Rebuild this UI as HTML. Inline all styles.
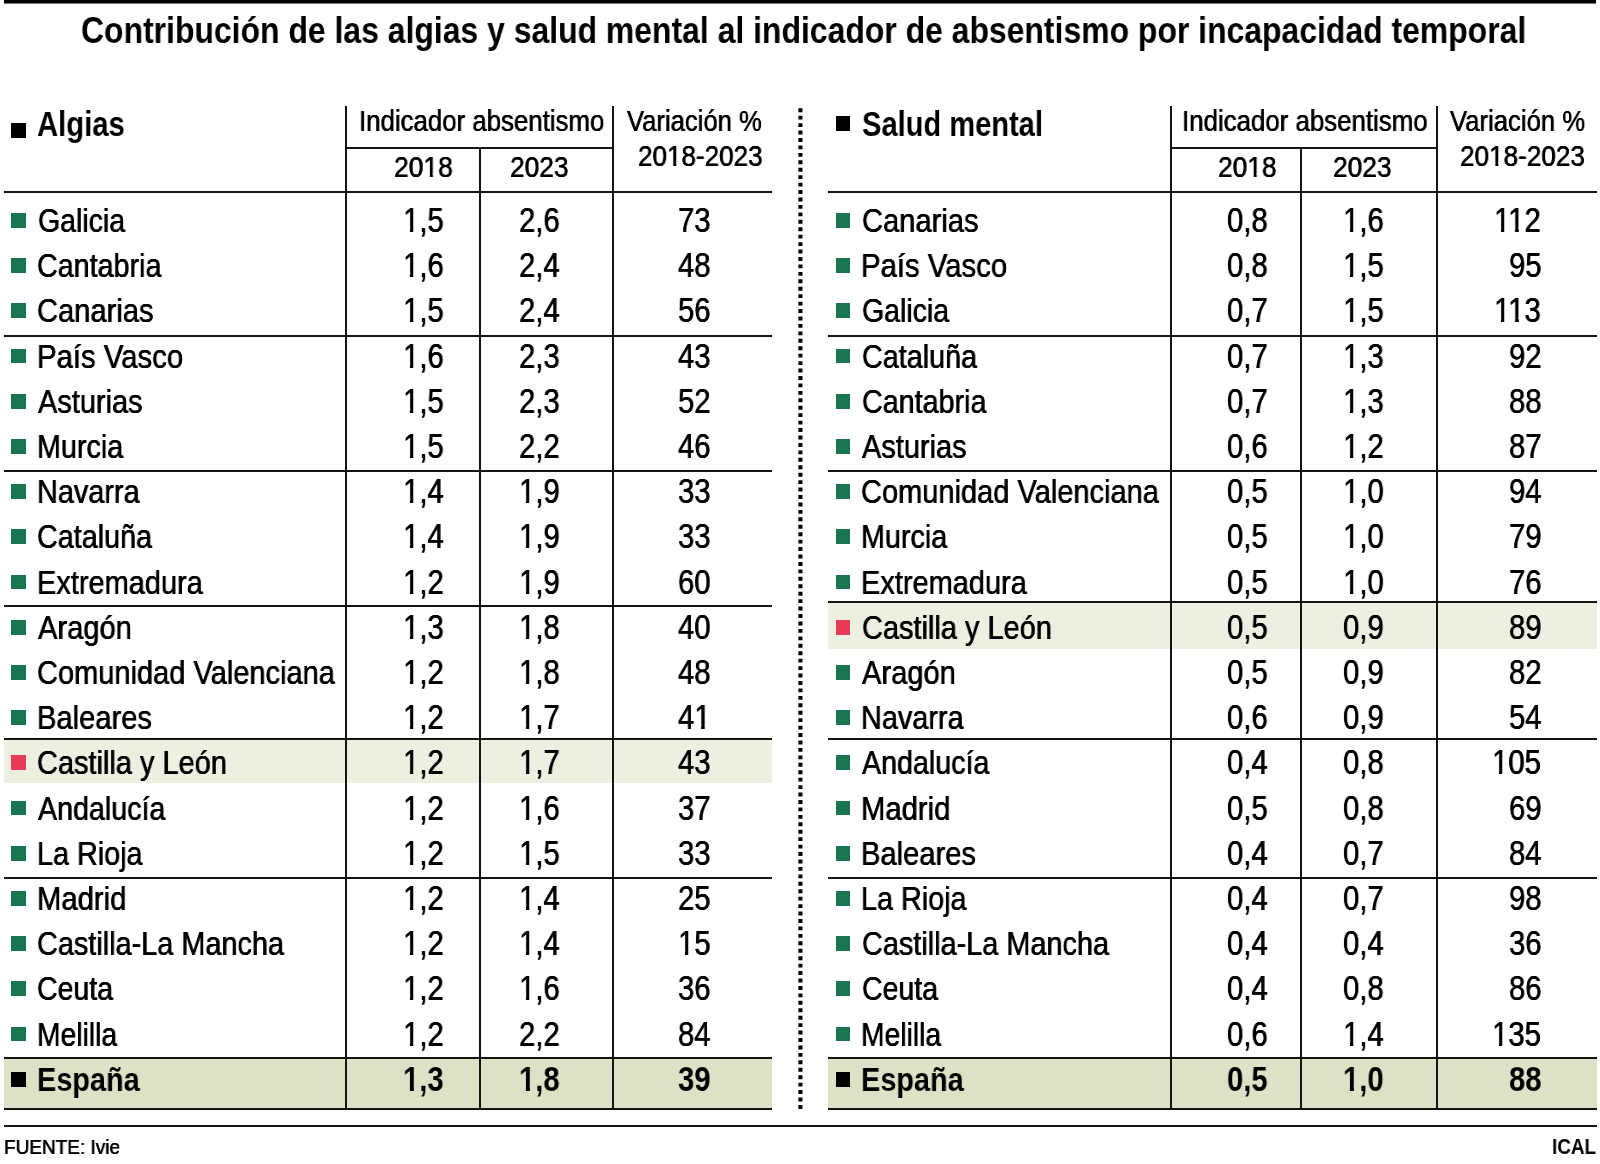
<!DOCTYPE html>
<html lang="es"><head><meta charset="utf-8"><title>Contribución de las algias y salud mental</title>
<style>
html,body{margin:0;padding:0;background:#fff}
body{width:1600px;height:1164px;position:relative;overflow:hidden;font-family:"Liberation Sans",sans-serif;color:#000}
.r{position:absolute}
.t{position:absolute;white-space:nowrap;transform-origin:0 0;display:block;will-change:transform}
.n{font-weight:400;text-shadow:0.3px 0 0 #000,-0.3px 0 0 #000}
.b{font-weight:700}
.o,.ob{display:inline-block}
.k{margin-left:-0.0742em}
.o{clip-path:polygon(0 0,100% 0,100% 72%,63% 72%,63% 100%,43.4% 100%,43.4% 72%,0 72%)}
.ob{clip-path:polygon(0 0,100% 0,100% 69%,67% 69%,67% 100%,41.6% 100%,41.6% 69%,0 69%)}
</style></head><body>
<div class="r" style="left:4.00px;top:0.00px;width:1592.00px;height:3.00px;background:#000"></div>
<div class="r" style="left:4.00px;top:3.00px;width:1592.00px;height:1.00px;background:#7a7a7a"></div>
<div class="r" style="left:4.00px;top:740.00px;width:768.30px;height:43.20px;background:#ebf0e0"></div>
<div class="r" style="left:828.20px;top:603.00px;width:768.60px;height:46.30px;background:#ebf0e0"></div>
<div class="r" style="left:4.00px;top:1058.50px;width:768.30px;height:50.50px;background:#dbe2c6"></div>
<div class="r" style="left:828.20px;top:1058.50px;width:768.60px;height:50.50px;background:#dbe2c6"></div>
<div class="r" style="left:3.80px;top:191.25px;width:768.50px;height:2.00px;background:#141414"></div>
<div class="r" style="left:3.80px;top:335.05px;width:768.50px;height:2.00px;background:#141414"></div>
<div class="r" style="left:3.80px;top:469.70px;width:768.50px;height:2.00px;background:#141414"></div>
<div class="r" style="left:3.80px;top:604.90px;width:768.50px;height:2.00px;background:#141414"></div>
<div class="r" style="left:3.80px;top:738.00px;width:768.50px;height:2.00px;background:#141414"></div>
<div class="r" style="left:3.80px;top:876.60px;width:768.50px;height:2.00px;background:#141414"></div>
<div class="r" style="left:3.80px;top:1056.80px;width:768.50px;height:2.00px;background:#141414"></div>
<div class="r" style="left:3.80px;top:1108.45px;width:768.50px;height:2.00px;background:#141414"></div>
<div class="r" style="left:346.00px;top:146.80px;width:267.10px;height:2.00px;background:#141414"></div>
<div class="r" style="left:345.00px;top:106.20px;width:2.00px;height:1004.20px;background:#141414"></div>
<div class="r" style="left:612.10px;top:106.20px;width:2.00px;height:1004.20px;background:#141414"></div>
<div class="r" style="left:479.40px;top:147.80px;width:2.00px;height:962.60px;background:#141414"></div>
<div class="r" style="left:828.20px;top:191.25px;width:768.60px;height:2.00px;background:#141414"></div>
<div class="r" style="left:828.20px;top:335.10px;width:768.60px;height:2.00px;background:#141414"></div>
<div class="r" style="left:828.20px;top:469.70px;width:768.60px;height:2.00px;background:#141414"></div>
<div class="r" style="left:828.20px;top:601.10px;width:768.60px;height:2.00px;background:#141414"></div>
<div class="r" style="left:828.20px;top:738.05px;width:768.60px;height:2.00px;background:#141414"></div>
<div class="r" style="left:828.20px;top:876.60px;width:768.60px;height:2.00px;background:#141414"></div>
<div class="r" style="left:828.20px;top:1056.90px;width:768.60px;height:2.00px;background:#141414"></div>
<div class="r" style="left:828.20px;top:1108.45px;width:768.60px;height:2.00px;background:#141414"></div>
<div class="r" style="left:1170.60px;top:146.80px;width:266.00px;height:2.00px;background:#141414"></div>
<div class="r" style="left:1169.60px;top:106.20px;width:2.00px;height:1004.20px;background:#141414"></div>
<div class="r" style="left:1435.60px;top:106.20px;width:2.00px;height:1004.20px;background:#141414"></div>
<div class="r" style="left:1299.90px;top:147.80px;width:2.00px;height:962.60px;background:#141414"></div>
<div class="r" style="left:4.00px;top:1125.30px;width:1592.80px;height:2.00px;background:#141414"></div>
<svg class="r" style="left:796px;top:100px" width="8" height="1016" viewBox="0 0 8 1016"><line x1="4.4" y1="8.25" x2="4.4" y2="1009" stroke="#000" stroke-width="4.1" stroke-dasharray="3.9 3.5384"/></svg>
<div class="r" style="left:11.00px;top:123.00px;width:14.80px;height:15.00px;background:#000"></div>
<div class="r" style="left:835.80px;top:115.50px;width:14.40px;height:15.20px;background:#000"></div>
<div class="r" style="left:11.00px;top:212.90px;width:15.00px;height:14.90px;background:#17754f"></div>
<div class="r" style="left:835.90px;top:212.90px;width:14.30px;height:14.90px;background:#17754f"></div>
<div class="r" style="left:11.00px;top:258.10px;width:15.00px;height:14.90px;background:#17754f"></div>
<div class="r" style="left:835.90px;top:258.10px;width:14.30px;height:14.90px;background:#17754f"></div>
<div class="r" style="left:11.00px;top:303.30px;width:15.00px;height:14.90px;background:#17754f"></div>
<div class="r" style="left:835.90px;top:303.30px;width:14.30px;height:14.90px;background:#17754f"></div>
<div class="r" style="left:11.00px;top:348.50px;width:15.00px;height:14.90px;background:#17754f"></div>
<div class="r" style="left:835.90px;top:348.50px;width:14.30px;height:14.90px;background:#17754f"></div>
<div class="r" style="left:11.00px;top:393.70px;width:15.00px;height:14.90px;background:#17754f"></div>
<div class="r" style="left:835.90px;top:393.70px;width:14.30px;height:14.90px;background:#17754f"></div>
<div class="r" style="left:11.00px;top:438.90px;width:15.00px;height:14.90px;background:#17754f"></div>
<div class="r" style="left:835.90px;top:438.90px;width:14.30px;height:14.90px;background:#17754f"></div>
<div class="r" style="left:11.00px;top:484.10px;width:15.00px;height:14.90px;background:#17754f"></div>
<div class="r" style="left:835.90px;top:484.10px;width:14.30px;height:14.90px;background:#17754f"></div>
<div class="r" style="left:11.00px;top:529.30px;width:15.00px;height:14.90px;background:#17754f"></div>
<div class="r" style="left:835.90px;top:529.30px;width:14.30px;height:14.90px;background:#17754f"></div>
<div class="r" style="left:11.00px;top:574.50px;width:15.00px;height:14.90px;background:#17754f"></div>
<div class="r" style="left:835.90px;top:574.50px;width:14.30px;height:14.90px;background:#17754f"></div>
<div class="r" style="left:11.00px;top:619.70px;width:15.00px;height:14.90px;background:#17754f"></div>
<div class="r" style="left:835.90px;top:619.70px;width:14.30px;height:14.90px;background:#e93a57"></div>
<div class="r" style="left:11.00px;top:664.90px;width:15.00px;height:14.90px;background:#17754f"></div>
<div class="r" style="left:835.90px;top:664.90px;width:14.30px;height:14.90px;background:#17754f"></div>
<div class="r" style="left:11.00px;top:710.10px;width:15.00px;height:14.90px;background:#17754f"></div>
<div class="r" style="left:835.90px;top:710.10px;width:14.30px;height:14.90px;background:#17754f"></div>
<div class="r" style="left:11.00px;top:755.30px;width:15.00px;height:14.90px;background:#e93a57"></div>
<div class="r" style="left:835.90px;top:755.30px;width:14.30px;height:14.90px;background:#17754f"></div>
<div class="r" style="left:11.00px;top:800.50px;width:15.00px;height:14.90px;background:#17754f"></div>
<div class="r" style="left:835.90px;top:800.50px;width:14.30px;height:14.90px;background:#17754f"></div>
<div class="r" style="left:11.00px;top:845.70px;width:15.00px;height:14.90px;background:#17754f"></div>
<div class="r" style="left:835.90px;top:845.70px;width:14.30px;height:14.90px;background:#17754f"></div>
<div class="r" style="left:11.00px;top:890.90px;width:15.00px;height:14.90px;background:#17754f"></div>
<div class="r" style="left:835.90px;top:890.90px;width:14.30px;height:14.90px;background:#17754f"></div>
<div class="r" style="left:11.00px;top:936.10px;width:15.00px;height:14.90px;background:#17754f"></div>
<div class="r" style="left:835.90px;top:936.10px;width:14.30px;height:14.90px;background:#17754f"></div>
<div class="r" style="left:11.00px;top:981.30px;width:15.00px;height:14.90px;background:#17754f"></div>
<div class="r" style="left:835.90px;top:981.30px;width:14.30px;height:14.90px;background:#17754f"></div>
<div class="r" style="left:11.00px;top:1026.50px;width:15.00px;height:14.90px;background:#17754f"></div>
<div class="r" style="left:835.90px;top:1026.50px;width:14.30px;height:14.90px;background:#17754f"></div>
<div class="r" style="left:11.00px;top:1071.70px;width:15.00px;height:14.90px;background:#000"></div>
<div class="r" style="left:835.90px;top:1071.70px;width:14.30px;height:14.90px;background:#000"></div>
<span class="t b" style="left:80.60px;top:13px;font-size:36.5px;line-height:36.5px;transform:scaleX(0.8743)">Contribución de las algias y salud mental al indicador de absentismo por incapacidad temporal</span>
<span class="t b" style="left:37.04px;top:107px;font-size:34.3px;line-height:34.3px;transform:scaleX(0.8539)">Algias</span>
<span class="t b" style="left:862.05px;top:107px;font-size:34.3px;line-height:34.3px;transform:scaleX(0.8475)">Salud mental</span>
<span class="t n" style="left:358.88px;top:106px;font-size:30.0px;line-height:30.0px;transform:scaleX(0.8601)">Indicador absentismo</span>
<span class="t n" style="left:1182.18px;top:106px;font-size:30.0px;line-height:30.0px;transform:scaleX(0.8613)">Indicador absentismo</span>
<span class="t n" style="left:627.25px;top:106px;font-size:30.0px;line-height:30.0px;transform:scaleX(0.8537)">Variación %</span>
<span class="t n" style="left:1449.50px;top:106px;font-size:30.0px;line-height:30.0px;transform:scaleX(0.8556)">Variación %</span>
<span class="t n" style="left:637.78px;top:141px;font-size:29.5px;line-height:29.5px;transform:scaleX(0.8827)">20<span class="o">1</span>8-2023</span>
<span class="t n" style="left:1460.48px;top:141px;font-size:29.5px;line-height:29.5px;transform:scaleX(0.8849)">20<span class="o">1</span>8-2023</span>
<span class="t n" style="left:394.26px;top:152px;font-size:29.5px;line-height:29.5px;transform:scaleX(0.8961)">20<span class="o">1</span>8</span>
<span class="t n" style="left:510.27px;top:152px;font-size:29.5px;line-height:29.5px;transform:scaleX(0.8922)">2023</span>
<span class="t n" style="left:1218.02px;top:152px;font-size:29.5px;line-height:29.5px;transform:scaleX(0.8922)">20<span class="o">1</span>8</span>
<span class="t n" style="left:1333.27px;top:152px;font-size:29.5px;line-height:29.5px;transform:scaleX(0.8922)">2023</span>
<span class="t n" style="left:3.72px;top:1137px;font-size:20.8px;line-height:20.8px;transform:scaleX(0.9129)">FUENTE: Ivie</span>
<span class="t b" style="left:1551.72px;top:1137px;font-size:21.5px;line-height:21.5px;transform:scaleX(0.8793)">ICAL</span>
<span class="t n" style="left:37.66px;top:204px;font-size:33.2px;line-height:33.2px;transform:scaleX(0.8588)">Galicia</span>
<span class="t n" style="left:403.25px;top:203px;font-size:34.3px;line-height:34.3px;transform:scaleX(0.8550)"><span class="o">1</span>,5</span>
<span class="t n" style="left:518.97px;top:203px;font-size:34.3px;line-height:34.3px;transform:scaleX(0.8550)">2,6</span>
<span class="t n" style="left:677.90px;top:203px;font-size:34.3px;line-height:34.3px;transform:scaleX(0.8550)">73</span>
<span class="t n" style="left:37.35px;top:249px;font-size:33.2px;line-height:33.2px;transform:scaleX(0.8646)">Cantabria</span>
<span class="t n" style="left:403.25px;top:248px;font-size:34.3px;line-height:34.3px;transform:scaleX(0.8550)"><span class="o">1</span>,6</span>
<span class="t n" style="left:518.97px;top:248px;font-size:34.3px;line-height:34.3px;transform:scaleX(0.8550)">2,4</span>
<span class="t n" style="left:677.90px;top:248px;font-size:34.3px;line-height:34.3px;transform:scaleX(0.8550)">48</span>
<span class="t n" style="left:37.33px;top:294px;font-size:33.2px;line-height:33.2px;transform:scaleX(0.8774)">Canarias</span>
<span class="t n" style="left:403.25px;top:293px;font-size:34.3px;line-height:34.3px;transform:scaleX(0.8550)"><span class="o">1</span>,5</span>
<span class="t n" style="left:518.97px;top:293px;font-size:34.3px;line-height:34.3px;transform:scaleX(0.8550)">2,4</span>
<span class="t n" style="left:677.90px;top:293px;font-size:34.3px;line-height:34.3px;transform:scaleX(0.8550)">56</span>
<span class="t n" style="left:37.11px;top:340px;font-size:33.2px;line-height:33.2px;transform:scaleX(0.8835)">País Vasco</span>
<span class="t n" style="left:403.25px;top:339px;font-size:34.3px;line-height:34.3px;transform:scaleX(0.8550)"><span class="o">1</span>,6</span>
<span class="t n" style="left:518.97px;top:339px;font-size:34.3px;line-height:34.3px;transform:scaleX(0.8550)">2,3</span>
<span class="t n" style="left:677.90px;top:339px;font-size:34.3px;line-height:34.3px;transform:scaleX(0.8550)">43</span>
<span class="t n" style="left:37.80px;top:385px;font-size:33.2px;line-height:33.2px;transform:scaleX(0.8722)">Asturias</span>
<span class="t n" style="left:403.25px;top:384px;font-size:34.3px;line-height:34.3px;transform:scaleX(0.8550)"><span class="o">1</span>,5</span>
<span class="t n" style="left:518.97px;top:384px;font-size:34.3px;line-height:34.3px;transform:scaleX(0.8550)">2,3</span>
<span class="t n" style="left:677.90px;top:384px;font-size:34.3px;line-height:34.3px;transform:scaleX(0.8550)">52</span>
<span class="t n" style="left:37.15px;top:430px;font-size:33.2px;line-height:33.2px;transform:scaleX(0.8660)">Murcia</span>
<span class="t n" style="left:403.25px;top:429px;font-size:34.3px;line-height:34.3px;transform:scaleX(0.8550)"><span class="o">1</span>,5</span>
<span class="t n" style="left:518.97px;top:429px;font-size:34.3px;line-height:34.3px;transform:scaleX(0.8550)">2,2</span>
<span class="t n" style="left:677.90px;top:429px;font-size:34.3px;line-height:34.3px;transform:scaleX(0.8550)">46</span>
<span class="t n" style="left:37.14px;top:475px;font-size:33.2px;line-height:33.2px;transform:scaleX(0.8695)">Navarra</span>
<span class="t n" style="left:403.25px;top:474px;font-size:34.3px;line-height:34.3px;transform:scaleX(0.8550)"><span class="o">1</span>,4</span>
<span class="t n" style="left:518.97px;top:474px;font-size:34.3px;line-height:34.3px;transform:scaleX(0.8550)"><span class="o">1</span>,9</span>
<span class="t n" style="left:677.90px;top:474px;font-size:34.3px;line-height:34.3px;transform:scaleX(0.8550)">33</span>
<span class="t n" style="left:37.35px;top:520px;font-size:33.2px;line-height:33.2px;transform:scaleX(0.8658)">Cataluña</span>
<span class="t n" style="left:403.25px;top:519px;font-size:34.3px;line-height:34.3px;transform:scaleX(0.8550)"><span class="o">1</span>,4</span>
<span class="t n" style="left:518.97px;top:519px;font-size:34.3px;line-height:34.3px;transform:scaleX(0.8550)"><span class="o">1</span>,9</span>
<span class="t n" style="left:677.90px;top:519px;font-size:34.3px;line-height:34.3px;transform:scaleX(0.8550)">33</span>
<span class="t n" style="left:37.14px;top:566px;font-size:33.2px;line-height:33.2px;transform:scaleX(0.8728)">Extremadura</span>
<span class="t n" style="left:403.25px;top:565px;font-size:34.3px;line-height:34.3px;transform:scaleX(0.8550)"><span class="o">1</span>,2</span>
<span class="t n" style="left:518.97px;top:565px;font-size:34.3px;line-height:34.3px;transform:scaleX(0.8550)"><span class="o">1</span>,9</span>
<span class="t n" style="left:677.90px;top:565px;font-size:34.3px;line-height:34.3px;transform:scaleX(0.8550)">60</span>
<span class="t n" style="left:37.80px;top:611px;font-size:33.2px;line-height:33.2px;transform:scaleX(0.8774)">Aragón</span>
<span class="t n" style="left:403.25px;top:610px;font-size:34.3px;line-height:34.3px;transform:scaleX(0.8550)"><span class="o">1</span>,3</span>
<span class="t n" style="left:518.97px;top:610px;font-size:34.3px;line-height:34.3px;transform:scaleX(0.8550)"><span class="o">1</span>,8</span>
<span class="t n" style="left:677.90px;top:610px;font-size:34.3px;line-height:34.3px;transform:scaleX(0.8550)">40</span>
<span class="t n" style="left:37.14px;top:656px;font-size:33.2px;line-height:33.2px;transform:scaleX(0.8743)">Comunidad Valenciana</span>
<span class="t n" style="left:403.25px;top:655px;font-size:34.3px;line-height:34.3px;transform:scaleX(0.8550)"><span class="o">1</span>,2</span>
<span class="t n" style="left:518.97px;top:655px;font-size:34.3px;line-height:34.3px;transform:scaleX(0.8550)"><span class="o">1</span>,8</span>
<span class="t n" style="left:677.90px;top:655px;font-size:34.3px;line-height:34.3px;transform:scaleX(0.8550)">48</span>
<span class="t n" style="left:37.12px;top:701px;font-size:33.2px;line-height:33.2px;transform:scaleX(0.8775)">Baleares</span>
<span class="t n" style="left:403.25px;top:700px;font-size:34.3px;line-height:34.3px;transform:scaleX(0.8550)"><span class="o">1</span>,2</span>
<span class="t n" style="left:518.97px;top:700px;font-size:34.3px;line-height:34.3px;transform:scaleX(0.8550)"><span class="o">1</span>,7</span>
<span class="t n" style="left:677.90px;top:700px;font-size:34.3px;line-height:34.3px;transform:scaleX(0.8550)">4<span class="o">1</span></span>
<span class="t n" style="left:37.34px;top:746px;font-size:33.2px;line-height:33.2px;transform:scaleX(0.8724)">Castilla y León</span>
<span class="t n" style="left:403.25px;top:745px;font-size:34.3px;line-height:34.3px;transform:scaleX(0.8550)"><span class="o">1</span>,2</span>
<span class="t n" style="left:518.97px;top:745px;font-size:34.3px;line-height:34.3px;transform:scaleX(0.8550)"><span class="o">1</span>,7</span>
<span class="t n" style="left:677.90px;top:745px;font-size:34.3px;line-height:34.3px;transform:scaleX(0.8550)">43</span>
<span class="t n" style="left:37.80px;top:792px;font-size:33.2px;line-height:33.2px;transform:scaleX(0.8629)">Andalucía</span>
<span class="t n" style="left:403.25px;top:791px;font-size:34.3px;line-height:34.3px;transform:scaleX(0.8550)"><span class="o">1</span>,2</span>
<span class="t n" style="left:518.97px;top:791px;font-size:34.3px;line-height:34.3px;transform:scaleX(0.8550)"><span class="o">1</span>,6</span>
<span class="t n" style="left:677.90px;top:791px;font-size:34.3px;line-height:34.3px;transform:scaleX(0.8550)">37</span>
<span class="t n" style="left:37.15px;top:837px;font-size:33.2px;line-height:33.2px;transform:scaleX(0.8666)">La Rioja</span>
<span class="t n" style="left:403.25px;top:836px;font-size:34.3px;line-height:34.3px;transform:scaleX(0.8550)"><span class="o">1</span>,2</span>
<span class="t n" style="left:518.97px;top:836px;font-size:34.3px;line-height:34.3px;transform:scaleX(0.8550)"><span class="o">1</span>,5</span>
<span class="t n" style="left:677.90px;top:836px;font-size:34.3px;line-height:34.3px;transform:scaleX(0.8550)">33</span>
<span class="t n" style="left:37.11px;top:882px;font-size:33.2px;line-height:33.2px;transform:scaleX(0.8812)">Madrid</span>
<span class="t n" style="left:403.25px;top:881px;font-size:34.3px;line-height:34.3px;transform:scaleX(0.8550)"><span class="o">1</span>,2</span>
<span class="t n" style="left:518.97px;top:881px;font-size:34.3px;line-height:34.3px;transform:scaleX(0.8550)"><span class="o">1</span>,4</span>
<span class="t n" style="left:677.90px;top:881px;font-size:34.3px;line-height:34.3px;transform:scaleX(0.8550)">25</span>
<span class="t n" style="left:37.35px;top:927px;font-size:33.2px;line-height:33.2px;transform:scaleX(0.8696)">Castilla-La Mancha</span>
<span class="t n" style="left:403.25px;top:926px;font-size:34.3px;line-height:34.3px;transform:scaleX(0.8550)"><span class="o">1</span>,2</span>
<span class="t n" style="left:518.97px;top:926px;font-size:34.3px;line-height:34.3px;transform:scaleX(0.8550)"><span class="o">1</span>,4</span>
<span class="t n" style="left:677.90px;top:926px;font-size:34.3px;line-height:34.3px;transform:scaleX(0.8550)"><span class="o">1</span>5</span>
<span class="t n" style="left:37.36px;top:972px;font-size:33.2px;line-height:33.2px;transform:scaleX(0.8585)">Ceuta</span>
<span class="t n" style="left:403.25px;top:971px;font-size:34.3px;line-height:34.3px;transform:scaleX(0.8550)"><span class="o">1</span>,2</span>
<span class="t n" style="left:518.97px;top:971px;font-size:34.3px;line-height:34.3px;transform:scaleX(0.8550)"><span class="o">1</span>,6</span>
<span class="t n" style="left:677.90px;top:971px;font-size:34.3px;line-height:34.3px;transform:scaleX(0.8550)">36</span>
<span class="t n" style="left:37.19px;top:1018px;font-size:33.2px;line-height:33.2px;transform:scaleX(0.8516)">Melilla</span>
<span class="t n" style="left:403.25px;top:1017px;font-size:34.3px;line-height:34.3px;transform:scaleX(0.8550)"><span class="o">1</span>,2</span>
<span class="t n" style="left:518.97px;top:1017px;font-size:34.3px;line-height:34.3px;transform:scaleX(0.8550)">2,2</span>
<span class="t n" style="left:677.90px;top:1017px;font-size:34.3px;line-height:34.3px;transform:scaleX(0.8550)">84</span>
<span class="t b" style="left:36.89px;top:1063px;font-size:33.2px;line-height:33.2px;transform:scaleX(0.8707)">España</span>
<span class="t b" style="left:403.25px;top:1062px;font-size:34.3px;line-height:34.3px;transform:scaleX(0.8550)"><span class="ob">1</span>,3</span>
<span class="t b" style="left:518.97px;top:1062px;font-size:34.3px;line-height:34.3px;transform:scaleX(0.8550)"><span class="ob">1</span>,8</span>
<span class="t b" style="left:677.90px;top:1062px;font-size:34.3px;line-height:34.3px;transform:scaleX(0.8550)">39</span>
<span class="t n" style="left:861.63px;top:204px;font-size:33.2px;line-height:33.2px;transform:scaleX(0.8774)">Canarias</span>
<span class="t n" style="left:1227.25px;top:203px;font-size:34.3px;line-height:34.3px;transform:scaleX(0.8550)">0,8</span>
<span class="t n" style="left:1342.92px;top:203px;font-size:34.3px;line-height:34.3px;transform:scaleX(0.8550)"><span class="o">1</span>,6</span>
<span class="t n" style="left:1494.46px;top:203px;font-size:34.3px;line-height:34.3px;transform:scaleX(0.8550)"><span class="o">1</span><span class="o k">1</span>2</span>
<span class="t n" style="left:861.41px;top:249px;font-size:33.2px;line-height:33.2px;transform:scaleX(0.8835)">País Vasco</span>
<span class="t n" style="left:1227.25px;top:248px;font-size:34.3px;line-height:34.3px;transform:scaleX(0.8550)">0,8</span>
<span class="t n" style="left:1342.92px;top:248px;font-size:34.3px;line-height:34.3px;transform:scaleX(0.8550)"><span class="o">1</span>,5</span>
<span class="t n" style="left:1508.60px;top:248px;font-size:34.3px;line-height:34.3px;transform:scaleX(0.8550)">95</span>
<span class="t n" style="left:861.96px;top:294px;font-size:33.2px;line-height:33.2px;transform:scaleX(0.8588)">Galicia</span>
<span class="t n" style="left:1227.25px;top:293px;font-size:34.3px;line-height:34.3px;transform:scaleX(0.8550)">0,7</span>
<span class="t n" style="left:1342.92px;top:293px;font-size:34.3px;line-height:34.3px;transform:scaleX(0.8550)"><span class="o">1</span>,5</span>
<span class="t n" style="left:1494.46px;top:293px;font-size:34.3px;line-height:34.3px;transform:scaleX(0.8550)"><span class="o">1</span><span class="o k">1</span>3</span>
<span class="t n" style="left:861.65px;top:340px;font-size:33.2px;line-height:33.2px;transform:scaleX(0.8658)">Cataluña</span>
<span class="t n" style="left:1227.25px;top:339px;font-size:34.3px;line-height:34.3px;transform:scaleX(0.8550)">0,7</span>
<span class="t n" style="left:1342.92px;top:339px;font-size:34.3px;line-height:34.3px;transform:scaleX(0.8550)"><span class="o">1</span>,3</span>
<span class="t n" style="left:1508.60px;top:339px;font-size:34.3px;line-height:34.3px;transform:scaleX(0.8550)">92</span>
<span class="t n" style="left:861.65px;top:385px;font-size:33.2px;line-height:33.2px;transform:scaleX(0.8646)">Cantabria</span>
<span class="t n" style="left:1227.25px;top:384px;font-size:34.3px;line-height:34.3px;transform:scaleX(0.8550)">0,7</span>
<span class="t n" style="left:1342.92px;top:384px;font-size:34.3px;line-height:34.3px;transform:scaleX(0.8550)"><span class="o">1</span>,3</span>
<span class="t n" style="left:1508.60px;top:384px;font-size:34.3px;line-height:34.3px;transform:scaleX(0.8550)">88</span>
<span class="t n" style="left:862.10px;top:430px;font-size:33.2px;line-height:33.2px;transform:scaleX(0.8722)">Asturias</span>
<span class="t n" style="left:1227.25px;top:429px;font-size:34.3px;line-height:34.3px;transform:scaleX(0.8550)">0,6</span>
<span class="t n" style="left:1342.92px;top:429px;font-size:34.3px;line-height:34.3px;transform:scaleX(0.8550)"><span class="o">1</span>,2</span>
<span class="t n" style="left:1508.60px;top:429px;font-size:34.3px;line-height:34.3px;transform:scaleX(0.8550)">87</span>
<span class="t n" style="left:861.44px;top:475px;font-size:33.2px;line-height:33.2px;transform:scaleX(0.8743)">Comunidad Valenciana</span>
<span class="t n" style="left:1227.25px;top:474px;font-size:34.3px;line-height:34.3px;transform:scaleX(0.8550)">0,5</span>
<span class="t n" style="left:1342.92px;top:474px;font-size:34.3px;line-height:34.3px;transform:scaleX(0.8550)"><span class="o">1</span>,0</span>
<span class="t n" style="left:1508.60px;top:474px;font-size:34.3px;line-height:34.3px;transform:scaleX(0.8550)">94</span>
<span class="t n" style="left:861.45px;top:520px;font-size:33.2px;line-height:33.2px;transform:scaleX(0.8660)">Murcia</span>
<span class="t n" style="left:1227.25px;top:519px;font-size:34.3px;line-height:34.3px;transform:scaleX(0.8550)">0,5</span>
<span class="t n" style="left:1342.92px;top:519px;font-size:34.3px;line-height:34.3px;transform:scaleX(0.8550)"><span class="o">1</span>,0</span>
<span class="t n" style="left:1508.60px;top:519px;font-size:34.3px;line-height:34.3px;transform:scaleX(0.8550)">79</span>
<span class="t n" style="left:861.44px;top:566px;font-size:33.2px;line-height:33.2px;transform:scaleX(0.8728)">Extremadura</span>
<span class="t n" style="left:1227.25px;top:565px;font-size:34.3px;line-height:34.3px;transform:scaleX(0.8550)">0,5</span>
<span class="t n" style="left:1342.92px;top:565px;font-size:34.3px;line-height:34.3px;transform:scaleX(0.8550)"><span class="o">1</span>,0</span>
<span class="t n" style="left:1508.60px;top:565px;font-size:34.3px;line-height:34.3px;transform:scaleX(0.8550)">76</span>
<span class="t n" style="left:861.64px;top:611px;font-size:33.2px;line-height:33.2px;transform:scaleX(0.8724)">Castilla y León</span>
<span class="t n" style="left:1227.25px;top:610px;font-size:34.3px;line-height:34.3px;transform:scaleX(0.8550)">0,5</span>
<span class="t n" style="left:1342.92px;top:610px;font-size:34.3px;line-height:34.3px;transform:scaleX(0.8550)">0,9</span>
<span class="t n" style="left:1508.60px;top:610px;font-size:34.3px;line-height:34.3px;transform:scaleX(0.8550)">89</span>
<span class="t n" style="left:862.10px;top:656px;font-size:33.2px;line-height:33.2px;transform:scaleX(0.8774)">Aragón</span>
<span class="t n" style="left:1227.25px;top:655px;font-size:34.3px;line-height:34.3px;transform:scaleX(0.8550)">0,5</span>
<span class="t n" style="left:1342.92px;top:655px;font-size:34.3px;line-height:34.3px;transform:scaleX(0.8550)">0,9</span>
<span class="t n" style="left:1508.60px;top:655px;font-size:34.3px;line-height:34.3px;transform:scaleX(0.8550)">82</span>
<span class="t n" style="left:861.44px;top:701px;font-size:33.2px;line-height:33.2px;transform:scaleX(0.8695)">Navarra</span>
<span class="t n" style="left:1227.25px;top:700px;font-size:34.3px;line-height:34.3px;transform:scaleX(0.8550)">0,6</span>
<span class="t n" style="left:1342.92px;top:700px;font-size:34.3px;line-height:34.3px;transform:scaleX(0.8550)">0,9</span>
<span class="t n" style="left:1508.60px;top:700px;font-size:34.3px;line-height:34.3px;transform:scaleX(0.8550)">54</span>
<span class="t n" style="left:862.10px;top:746px;font-size:33.2px;line-height:33.2px;transform:scaleX(0.8629)">Andalucía</span>
<span class="t n" style="left:1227.25px;top:745px;font-size:34.3px;line-height:34.3px;transform:scaleX(0.8550)">0,4</span>
<span class="t n" style="left:1342.92px;top:745px;font-size:34.3px;line-height:34.3px;transform:scaleX(0.8550)">0,8</span>
<span class="t n" style="left:1492.29px;top:745px;font-size:34.3px;line-height:34.3px;transform:scaleX(0.8550)"><span class="o">1</span>05</span>
<span class="t n" style="left:861.41px;top:792px;font-size:33.2px;line-height:33.2px;transform:scaleX(0.8812)">Madrid</span>
<span class="t n" style="left:1227.25px;top:791px;font-size:34.3px;line-height:34.3px;transform:scaleX(0.8550)">0,5</span>
<span class="t n" style="left:1342.92px;top:791px;font-size:34.3px;line-height:34.3px;transform:scaleX(0.8550)">0,8</span>
<span class="t n" style="left:1508.60px;top:791px;font-size:34.3px;line-height:34.3px;transform:scaleX(0.8550)">69</span>
<span class="t n" style="left:861.42px;top:837px;font-size:33.2px;line-height:33.2px;transform:scaleX(0.8775)">Baleares</span>
<span class="t n" style="left:1227.25px;top:836px;font-size:34.3px;line-height:34.3px;transform:scaleX(0.8550)">0,4</span>
<span class="t n" style="left:1342.92px;top:836px;font-size:34.3px;line-height:34.3px;transform:scaleX(0.8550)">0,7</span>
<span class="t n" style="left:1508.60px;top:836px;font-size:34.3px;line-height:34.3px;transform:scaleX(0.8550)">84</span>
<span class="t n" style="left:861.45px;top:882px;font-size:33.2px;line-height:33.2px;transform:scaleX(0.8666)">La Rioja</span>
<span class="t n" style="left:1227.25px;top:881px;font-size:34.3px;line-height:34.3px;transform:scaleX(0.8550)">0,4</span>
<span class="t n" style="left:1342.92px;top:881px;font-size:34.3px;line-height:34.3px;transform:scaleX(0.8550)">0,7</span>
<span class="t n" style="left:1508.60px;top:881px;font-size:34.3px;line-height:34.3px;transform:scaleX(0.8550)">98</span>
<span class="t n" style="left:861.65px;top:927px;font-size:33.2px;line-height:33.2px;transform:scaleX(0.8696)">Castilla-La Mancha</span>
<span class="t n" style="left:1227.25px;top:926px;font-size:34.3px;line-height:34.3px;transform:scaleX(0.8550)">0,4</span>
<span class="t n" style="left:1342.92px;top:926px;font-size:34.3px;line-height:34.3px;transform:scaleX(0.8550)">0,4</span>
<span class="t n" style="left:1508.60px;top:926px;font-size:34.3px;line-height:34.3px;transform:scaleX(0.8550)">36</span>
<span class="t n" style="left:861.66px;top:972px;font-size:33.2px;line-height:33.2px;transform:scaleX(0.8585)">Ceuta</span>
<span class="t n" style="left:1227.25px;top:971px;font-size:34.3px;line-height:34.3px;transform:scaleX(0.8550)">0,4</span>
<span class="t n" style="left:1342.92px;top:971px;font-size:34.3px;line-height:34.3px;transform:scaleX(0.8550)">0,8</span>
<span class="t n" style="left:1508.60px;top:971px;font-size:34.3px;line-height:34.3px;transform:scaleX(0.8550)">86</span>
<span class="t n" style="left:861.49px;top:1018px;font-size:33.2px;line-height:33.2px;transform:scaleX(0.8516)">Melilla</span>
<span class="t n" style="left:1227.25px;top:1017px;font-size:34.3px;line-height:34.3px;transform:scaleX(0.8550)">0,6</span>
<span class="t n" style="left:1342.92px;top:1017px;font-size:34.3px;line-height:34.3px;transform:scaleX(0.8550)"><span class="o">1</span>,4</span>
<span class="t n" style="left:1492.29px;top:1017px;font-size:34.3px;line-height:34.3px;transform:scaleX(0.8550)"><span class="o">1</span>35</span>
<span class="t b" style="left:861.19px;top:1063px;font-size:33.2px;line-height:33.2px;transform:scaleX(0.8707)">España</span>
<span class="t b" style="left:1227.25px;top:1062px;font-size:34.3px;line-height:34.3px;transform:scaleX(0.8550)">0,5</span>
<span class="t b" style="left:1342.92px;top:1062px;font-size:34.3px;line-height:34.3px;transform:scaleX(0.8550)"><span class="ob">1</span>,0</span>
<span class="t b" style="left:1508.60px;top:1062px;font-size:34.3px;line-height:34.3px;transform:scaleX(0.8550)">88</span>
</body></html>
